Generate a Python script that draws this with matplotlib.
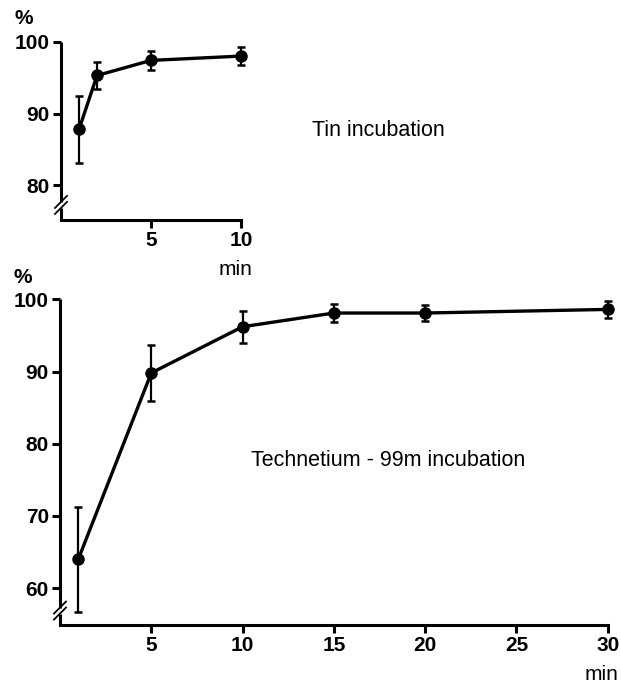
import numpy as np
import matplotlib.pyplot as plt

plt.rcParams['font.family'] = ['Liberation Sans', 'DejaVu Sans']

# ---------- data ----------
tin_time = [1, 2, 5, 10]
tin_mean = [87.8, 95.3, 97.4, 98.0]
tin_err = [4.7, 1.9, 1.3, 1.2]

tc_time = [1, 5, 10, 15, 20, 30]
tc_mean = [64.0, 89.8, 96.2, 98.1, 98.1, 98.6]
tc_err = [7.3, 3.9, 2.2, 1.2, 1.1, 1.15]

tin_xticks = [5, 10]
tin_yticks = [80, 90, 100]
tc_xticks = [5, 10, 15, 20, 25, 30]
tc_yticks = [60, 70, 80, 90, 100]

W, H = 621, 683
fig = plt.figure(figsize=(W / 100, H / 100), dpi=100)


def px_axes(x0, y0, x1, y1):
    """Axes from pixel box (left, top, right, bottom)."""
    ax = fig.add_axes([x0 / W, 1 - y1 / H, (x1 - x0) / W, (y1 - y0) / H])
    ax._pxsize = (x1 - x0, y1 - y0)
    return ax


def style_axis(ax, xmax, ybot, xticks, yticks, brk):
    lw = 2.2
    ax.set_xlim(0, xmax)
    ax.set_ylim(ybot, 100)
    for s in ['top', 'right']:
        ax.spines[s].set_visible(False)
    ax.spines['left'].set_linewidth(lw)
    ax.spines['bottom'].set_linewidth(lw)
    # units per pixel
    ux = xmax / ax._pxsize[0]
    uy = (100 - ybot) / ax._pxsize[1]
    gap = 3 * uy
    ax.spines['left'].set_bounds(brk + gap, 100)
    ax.spines['left'].set_capstyle('butt')
    ax.set_xticks(xticks)
    ax.set_yticks(yticks)
    ax.tick_params(axis='both', direction='out', width=lw, length=6, pad=2,
                   labelsize=15)
    for lab in ax.get_xticklabels() + ax.get_yticklabels():
        lab.set_fontweight('bold')
    # lower piece of the y axis below the break
    ax.plot([0, 0], [ybot, brk - gap], color='black', lw=lw, clip_on=False,
            solid_capstyle='butt')
    # break marks "//"
    for off in (-gap, gap):
        ax.plot([-6 * ux, 6 * ux], [brk + off - 6 * uy, brk + off + 6 * uy],
                color='black', lw=1.3, clip_on=False)


def draw_series(ax, t, m, e):
    ax.errorbar(t, m, yerr=e, color='black', lw=2.4, marker='o', ms=8,
                capsize=3.2, capthick=1.8, elinewidth=1.6, clip_on=False,
                zorder=3)


# top panel: tin incubation
ax1 = px_axes(61, 41.7, 241, 220)
draw_series(ax1, tin_time, tin_mean, tin_err)
style_axis(ax1, 10, 75.2, tin_xticks, tin_yticks, 77.3)

# bottom panel: technetium-99m incubation
ax2 = px_axes(60, 299.3, 607.7, 625)
draw_series(ax2, tc_time, tc_mean, tc_err)
style_axis(ax2, 30, 54.9, tc_xticks, tc_yticks, 56.9)


def ptext(x, y, s, **kw):
    fig.text(x / W, 1 - y / H, s, ha='center', va='center', **kw)


ptext(24, 19, '%', fontsize=15, fontweight='bold')
ptext(236, 270, 'min', fontsize=15)
ptext(378, 131, 'Tin incubation', fontsize=15.5)
ptext(23, 278, '%', fontsize=15, fontweight='bold')
ptext(601, 674, 'min', fontsize=15)
ptext(388, 460, 'Technetium - 99m incubation', fontsize=15.5)

fig.savefig('out.png', dpi=100)
